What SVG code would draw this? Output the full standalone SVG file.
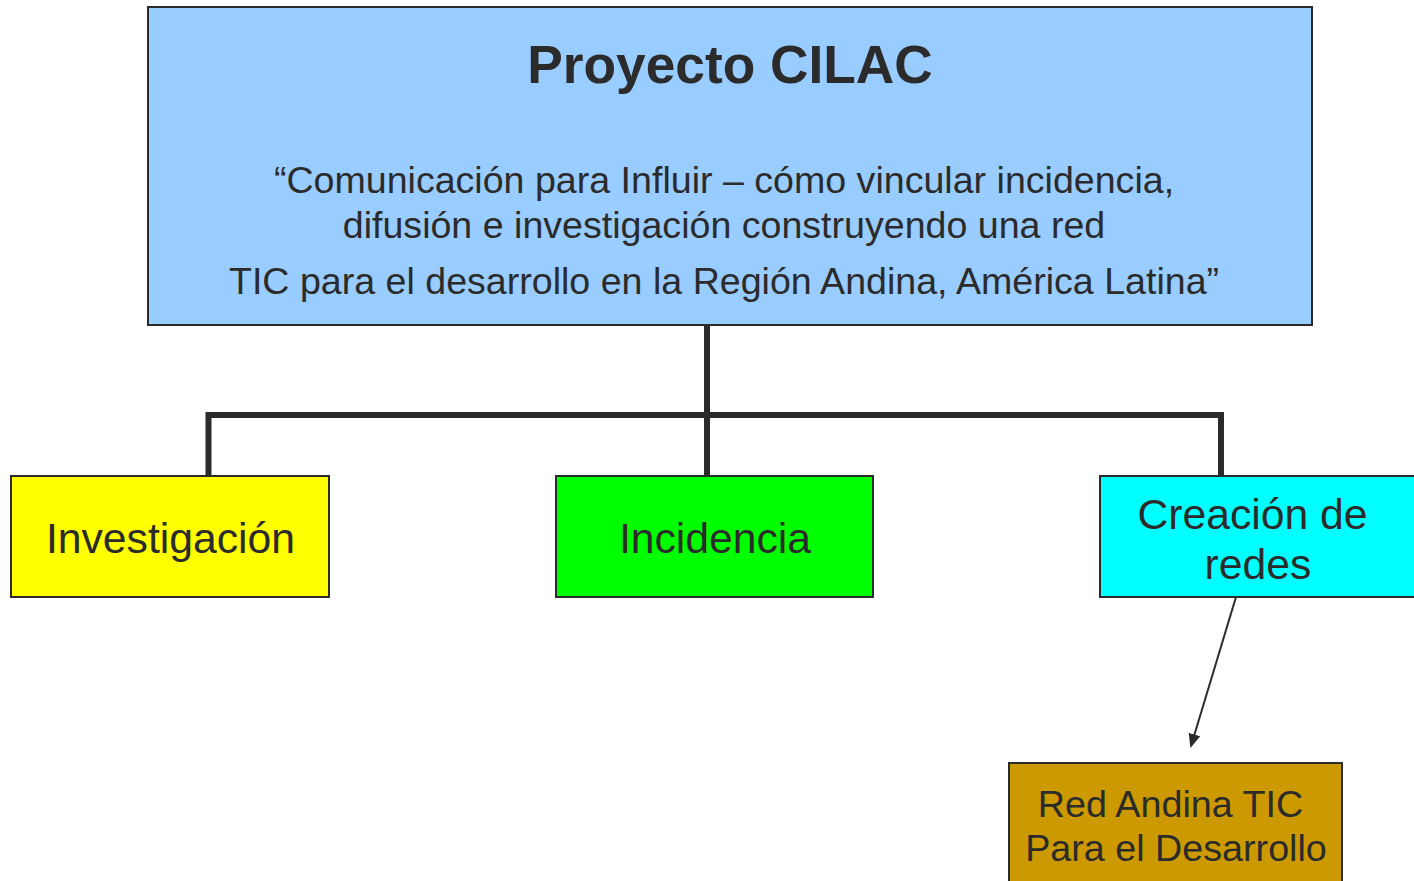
<svg xmlns="http://www.w3.org/2000/svg" width="1414" height="881" viewBox="0 0 1414 881">
<style>
.box{stroke:#2b2b2b;stroke-width:2}
text{font-family:"Liberation Sans",Arial,sans-serif;fill:#2b2b2b;text-anchor:middle}
.conn{stroke:#2b2b2b;stroke-width:6;fill:none}
.sub{font-size:37.6px}
.lbl{font-size:42.7px}
</style>
<defs>
<marker id="arr" markerWidth="14" markerHeight="14" refX="12" refY="6" orient="auto" markerUnits="userSpaceOnUse" viewBox="0 0 14 12">
<path d="M0,0 L14,6 L0,12 Z" fill="#2b2b2b"/>
</marker>
</defs>
<rect width="1414" height="881" fill="#fff"/>
<g id="connectors">
<path class="conn" d="M707,325 V415 M208.5,476 V415 H1221 V476 M707,415 V476"/>
<line x1="1236" y1="597" x2="1191" y2="746" stroke="#2b2b2b" stroke-width="2" marker-end="url(#arr)"/>
</g>
<g id="proyecto">
<rect class="box" x="148" y="7" width="1164" height="318" fill="#99ccff"/>
<text x="730" y="83" font-size="53.3" font-weight="bold">Proyecto CILAC</text>
<text class="sub" x="724" y="193">“Comunicación para Influir – cómo vincular incidencia,</text>
<text class="sub" x="724" y="238">difusión e investigación construyendo una red</text>
<text class="sub" x="724" y="294">TIC para el desarrollo en la Región Andina, América Latina”</text>
</g>
<g id="investigacion">
<rect class="box" x="11" y="476" width="318" height="121" fill="#ffff00"/>
<text class="lbl" x="170.5" y="553">Investigación</text>
</g>
<g id="incidencia">
<rect class="box" x="556" y="476" width="317" height="121" fill="#00ff00"/>
<text class="lbl" x="715" y="553">Incidencia</text>
</g>
<g id="redes">
<rect class="box" x="1100" y="476" width="330" height="121" fill="#00ffff"/>
<text class="lbl" x="1252.5" y="529">Creación de</text>
<text class="lbl" x="1258" y="579">redes</text>
</g>
<g id="red-andina">
<rect class="box" x="1009" y="763" width="333" height="130" fill="#cc9900"/>
<text x="1170.5" y="817" font-size="37.7">Red Andina TIC</text>
<text x="1176" y="861" font-size="37.7">Para el Desarrollo</text>
</g>
</svg>
